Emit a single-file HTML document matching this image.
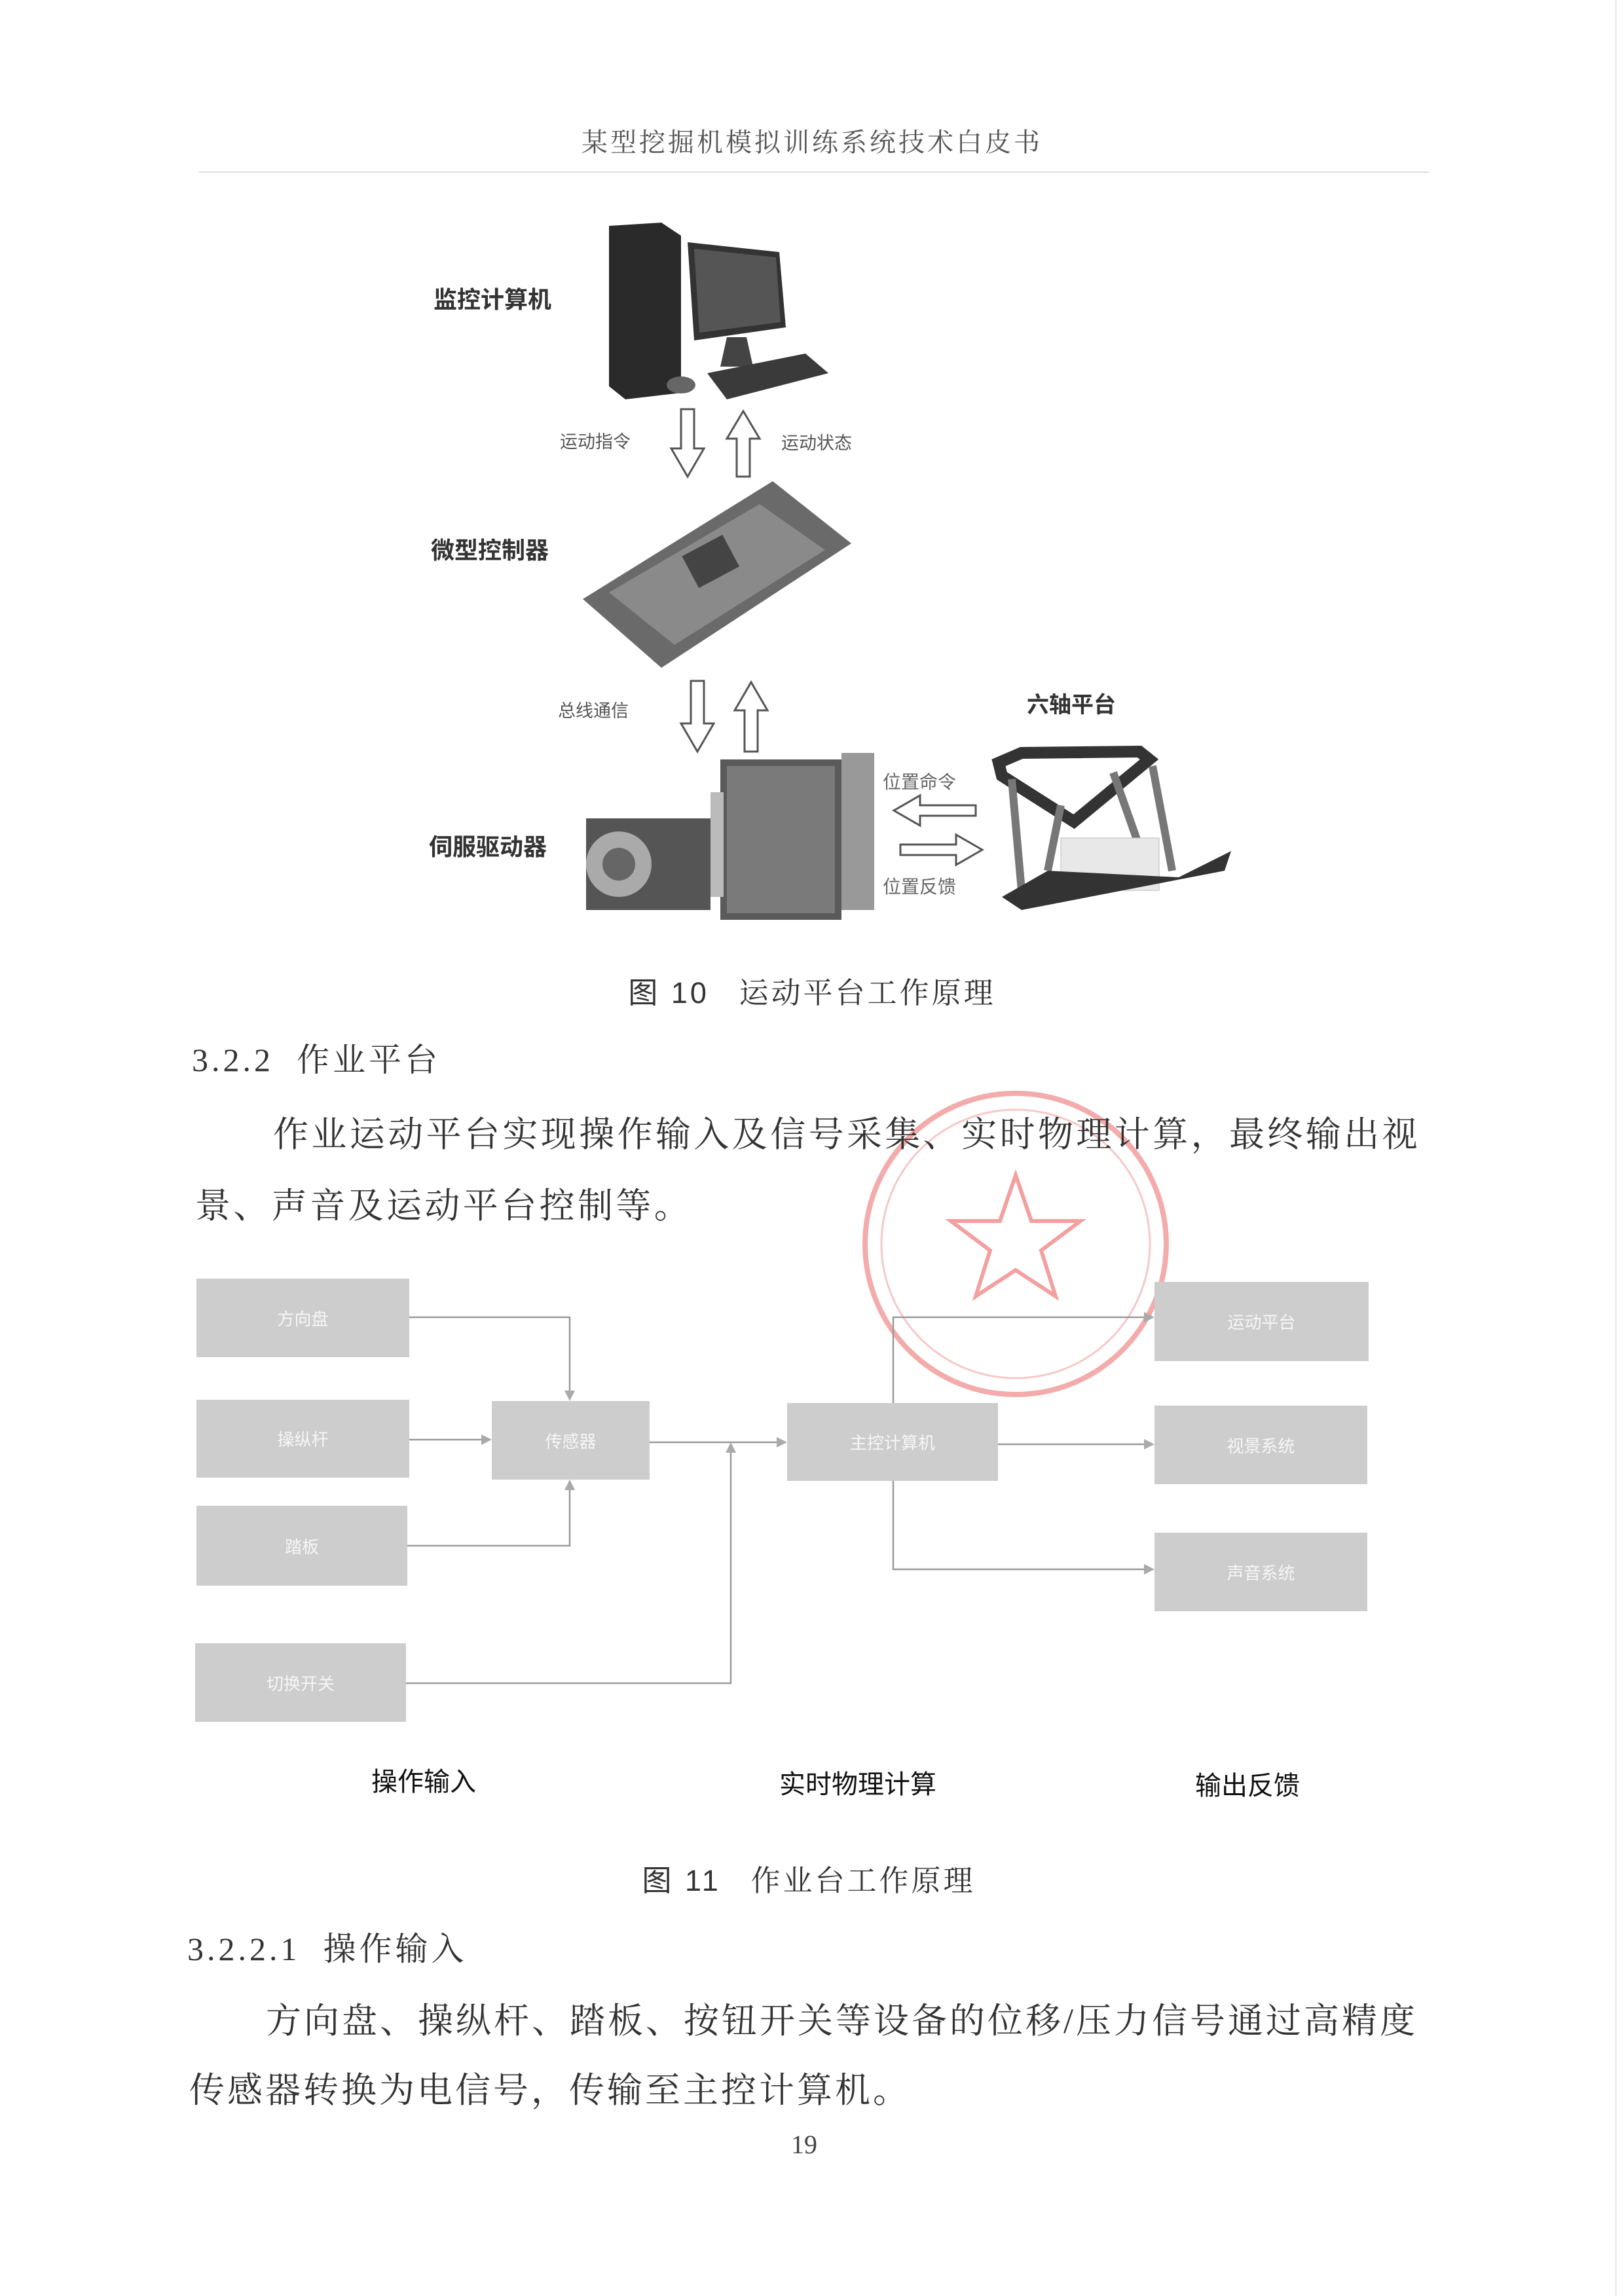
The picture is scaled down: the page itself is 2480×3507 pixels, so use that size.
<!DOCTYPE html>
<html><head><meta charset="utf-8">
<style>
html,body{margin:0;padding:0;background:#fff;}
body{width:2480px;height:3507px;position:relative;overflow:hidden;font-family:"Liberation Serif","Noto Serif CJK SC","Noto Sans CJK SC",serif;color:#333;}
.t{position:absolute;white-space:nowrap;line-height:1;}
.s{font-family:"Liberation Sans","Noto Sans CJK SC",sans-serif;}
.box{position:absolute;background:#cdcdcd;color:#f6f6f6;font-family:"Liberation Sans","Noto Sans CJK SC",sans-serif;font-size:26px;display:flex;align-items:center;justify-content:center;}
</style></head><body>
<div class="t" style="left:0;width:2480px;text-align:center;top:198px;font-size:40px;letter-spacing:4px;color:#555;">某型挖掘机模拟训练系统技术白皮书</div>
<div style="position:absolute;left:304px;top:262px;width:1878px;height:2px;background:#ddd;"></div>
<div style="position:absolute;left:2466px;top:0;width:3px;height:3507px;background:#eee;"></div>

<svg style="position:absolute;left:0;top:0" width="2480" height="3507">
<polygon points="930,345 1010,340 1040,360 1040,600 955,610 930,590" fill="#2a2a2a"/>
<polygon points="1050,370 1190,385 1200,500 1060,520" fill="#333"/>
<polygon points="1060,380 1185,393 1192,492 1068,508" fill="#555"/>
<polygon points="1110,515 1140,515 1150,560 1100,560" fill="#444"/>
<polygon points="1080,570 1230,540 1265,570 1110,610" fill="#3a3a3a"/>
<ellipse cx="1040" cy="588" rx="22" ry="13" fill="#666"/>
<g fill="#fff" stroke="#555" stroke-width="3">
<polygon points="1040,625 1060,625 1060,685 1075,685 1050,728 1025,685 1040,685"/>
<polygon points="1125,728 1145,728 1145,670 1160,670 1135,628 1110,670 1125,670"/>
<polygon points="1055,1040 1075,1040 1075,1105 1090,1105 1065,1148 1040,1105 1055,1105"/>
<polygon points="1137,1148 1157,1148 1157,1085 1172,1085 1147,1042 1122,1085 1137,1085"/>
<polygon points="1490,1246 1490,1230 1405,1230 1405,1215 1365,1238 1405,1261 1405,1246"/>
<polygon points="1375,1290 1375,1306 1460,1306 1460,1321 1500,1298 1460,1275 1460,1290"/>
</g>
<polygon points="890,915 1180,735 1300,830 1010,1020" fill="#6a6a6a"/>
<polygon points="930,905 1160,770 1260,840 1030,985" fill="#8a8a8a"/>
<rect x="1050" y="830" width="70" height="55" fill="#444" transform="rotate(-28 1085 857)"/>
<rect x="1100" y="1160" width="185" height="245" fill="#5a5a5a"/>
<rect x="1110" y="1170" width="165" height="225" fill="#7a7a7a"/>
<rect x="1285" y="1150" width="50" height="240" fill="#999"/>
<rect x="1085" y="1210" width="20" height="160" fill="#bbb"/>
<rect x="895" y="1250" width="190" height="140" fill="#555"/>
<circle cx="945" cy="1320" r="50" fill="#aaa"/><circle cx="945" cy="1320" r="25" fill="#666"/>
<polygon points="1525,1165 1560,1150 1740,1148 1755,1160 1640,1255 1530,1185" fill="none" stroke="#333" stroke-width="18"/>
<g stroke="#777" stroke-width="12"><line x1="1545" y1="1190" x2="1560" y2="1360"/><line x1="1700" y1="1180" x2="1760" y2="1350"/><line x1="1760" y1="1170" x2="1790" y2="1330"/><line x1="1620" y1="1230" x2="1600" y2="1330"/></g>
<rect x="1620" y="1280" width="150" height="80" fill="#e8e8e8" stroke="#bbb"/>
<polygon points="1530,1370 1600,1330 1800,1340 1880,1300 1870,1330 1560,1390" fill="#333"/>
<circle cx="1551" cy="1900" r="230" fill="none" stroke="#e88" stroke-width="8" opacity="0.7"/>
<circle cx="1551" cy="1900" r="205" fill="none" stroke="#f3b0b0" stroke-width="3" opacity="0.7"/>
<polygon points="1551,1795 1575,1865 1650,1865 1590,1910 1612,1980 1551,1940 1490,1980 1512,1910 1452,1865 1527,1865" fill="none" stroke="#e77" stroke-width="6" opacity="0.7"/>
<g stroke="#999" stroke-width="2.5" fill="none">
<polyline points="625,2012 870,2012 870,2134"/>
<line x1="625" y1="2199" x2="745" y2="2199"/>
<polyline points="622,2361 870,2361 870,2266"/>
<line x1="992" y1="2203" x2="1195" y2="2203"/>
<polyline points="620,2571 1116,2571 1116,2209"/>
<line x1="1524" y1="2206" x2="1757" y2="2206"/>
<polyline points="1364,2143 1364,2012 1757,2012"/>
<polyline points="1364,2262 1364,2397 1757,2397"/>
</g>
<g fill="#aaa">
<polygon points="862,2124 878,2124 870,2140"/>
<polygon points="735,2191 735,2207 751,2199"/>
<polygon points="862,2276 878,2276 870,2260"/>
<polygon points="1186,2195 1186,2211 1202,2203"/>
<polygon points="1108,2219 1124,2219 1116,2203"/>
<polygon points="1747,2198 1747,2214 1763,2206"/>
<polygon points="1747,2004 1747,2020 1763,2012"/>
<polygon points="1747,2389 1747,2405 1763,2397"/>
</g>
</svg>

<div class="t s" style="left:662px;top:440px;font-size:36px;font-weight:bold;">监控计算机</div>
<div class="t s" style="left:855px;top:662px;font-size:27px;color:#555;">运动指令</div>
<div class="t s" style="left:1193px;top:664px;font-size:27px;color:#555;">运动状态</div>
<div class="t s" style="left:658px;top:823px;font-size:36px;font-weight:bold;">微型控制器</div>
<div class="t s" style="left:852px;top:1073px;font-size:27px;color:#555;">总线通信</div>
<div class="t s" style="left:1568px;top:1060px;font-size:34px;font-weight:bold;">六轴平台</div>
<div class="t s" style="left:655px;top:1276px;font-size:36px;font-weight:bold;">伺服驱动器</div>
<div class="t s" style="left:1348px;top:1181px;font-size:28px;color:#666;">位置命令</div>
<div class="t s" style="left:1348px;top:1341px;font-size:28px;color:#666;">位置反馈</div>

<div class="t" style="left:0;width:2480px;text-align:center;top:1494px;font-size:45px;letter-spacing:4px;"><span class="s">图 10</span>&nbsp;&nbsp;&nbsp;运动平台工作原理</div>
<div class="t" style="left:293px;top:1594px;font-size:50px;letter-spacing:5px;">3.2.2&nbsp;&nbsp;作业平台</div>
<div class="t" style="left:417px;top:1706px;font-size:54px;letter-spacing:4.4px;">作业运动平台实现操作输入及信号采集、实时物理计算，最终输出视</div>
<div class="t" style="left:298px;top:1815px;font-size:54px;letter-spacing:4.4px;">景、声音及运动平台控制等。</div>

<div class="box" style="left:300px;top:1953px;width:325px;height:120px;">方向盘</div>
<div class="box" style="left:300px;top:2138px;width:325px;height:119px;">操纵杆</div>
<div class="box" style="left:300px;top:2300px;width:322px;height:122px;">踏板</div>
<div class="box" style="left:298px;top:2510px;width:322px;height:120px;">切换开关</div>
<div class="box" style="left:751px;top:2140px;width:241px;height:120px;">传感器</div>
<div class="box" style="left:1202px;top:2143px;width:322px;height:119px;">主控计算机</div>
<div class="box" style="left:1763px;top:1958px;width:327px;height:121px;">运动平台</div>
<div class="box" style="left:1763px;top:2147px;width:325px;height:120px;">视景系统</div>
<div class="box" style="left:1763px;top:2341px;width:325px;height:120px;">声音系统</div>

<div class="t s" style="left:547px;width:200px;text-align:center;top:2702px;font-size:40px;color:#111;">操作输入</div>
<div class="t s" style="left:1160px;width:300px;text-align:center;top:2706px;font-size:40px;color:#111;">实时物理计算</div>
<div class="t s" style="left:1805px;width:200px;text-align:center;top:2708px;font-size:40px;color:#111;">输出反馈</div>

<div class="t" style="left:0;width:2470px;text-align:center;top:2850px;font-size:45px;letter-spacing:4px;"><span class="s">图 11</span>&nbsp;&nbsp;&nbsp;作业台工作原理</div>
<div class="t" style="left:286px;top:2952px;font-size:50px;letter-spacing:5px;">3.2.2.1&nbsp;&nbsp;操作输入</div>
<div class="t" style="left:406px;top:3060px;font-size:54px;letter-spacing:4px;">方向盘、操纵杆、踏板、按钮开关等设备的位移/压力信号通过高精度</div>
<div class="t" style="left:289px;top:3166px;font-size:54px;letter-spacing:4px;">传感器转换为电信号，传输至主控计算机。</div>
<div class="t" style="left:1208px;top:3256px;font-size:40px;color:#444;">19</div>
</body></html>
